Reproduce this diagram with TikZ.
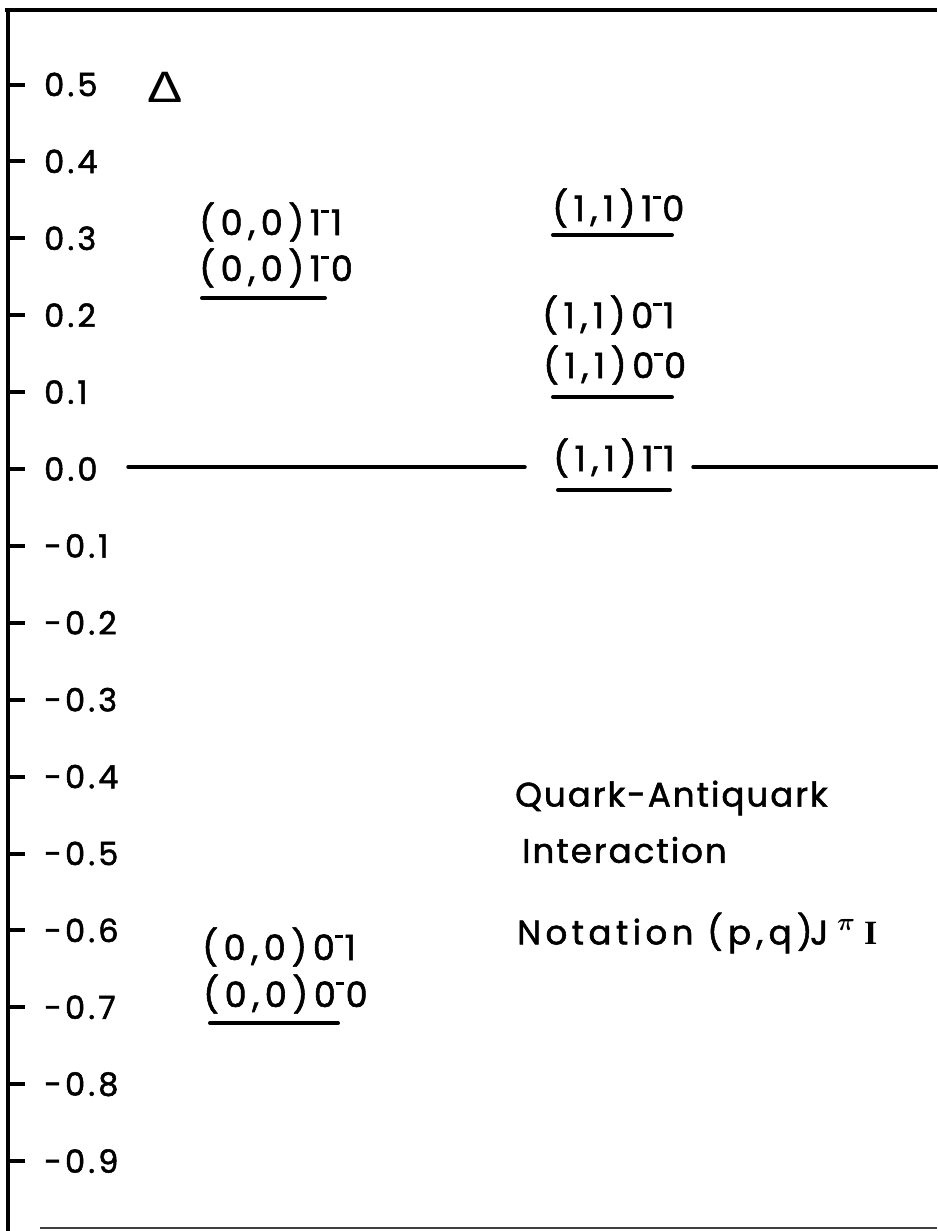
\documentclass[tikz,border=0pt]{standalone}
\usepackage{amsmath}
\usepackage{fontspec}
\setmainfont{Poppins}[LetterSpace=10, FakeBold=1.6]
\newfontfamily\axisfont{Poppins}[LetterSpace=10, FakeBold=1.6]
\newfontfamily\statefont{Poppins}[LetterSpace=16, FakeBold=1.6]
\newfontfamily\notefont{Poppins}[LetterSpace=6, FakeBold=1.6]
\newfontfamily\deltafont{Liberation Sans}
\newfontfamily\serifI{Liberation Serif}
% raised short bar used as the parity minus in J^pi
\newcommand\pminus{\raisebox{0.62em}{\rule{0.24em}{0.09em}}\hspace{0.04em}}
\tikzset{
  frame/.style={line width=3.5pt},
  tickmark/.style={line width=4pt},
  levelbar/.style={line width=4pt, line cap=round},
  zeroline/.style={line width=3.5pt, line cap=round},
  axlab/.style={anchor=west, inner sep=0pt, font=\axisfont\fontsize{32}{38}\selectfont},
  statelab/.style={anchor=west, inner sep=0pt, font=\statefont\fontsize{35}{42}\selectfont},
  note/.style={anchor=west, inner sep=0pt, font=\notefont\fontsize{34}{40}\selectfont},
}
\begin{document}
\begin{tikzpicture}[x=1pt, y=-1pt]
\useasboundingbox[fill=white] (0,0) rectangle (937,1231);

% frame: top rule, energy axis, faint bottom rule
\draw[frame] (5,10) -- (937,10);
\draw[frame] (8,10) -- (8,1231);
\draw[line width=2.5pt, black!75] (40,1228) -- (937,1228);

% axis ticks and values
\foreach \v/\t in {5/0.5,4/0.4,3/0.3,2/0.2,1/0.1,0/0.0,-1/-0.1,-2/-0.2,-3/-0.3,-4/-0.4,-5/-0.5,-6/-0.6,-7/-0.7,-8/-0.8,-9/-0.9}{
  \pgfmathsetmacro\yy{469-\v*76.9}
  \draw[tickmark] (8,\yy) -- (25,\yy);
  \node[axlab] (tick\v) at (44,\yy) {\t};
}

% axis title
\node[inner sep=0pt, font=\deltafont\fontsize{44}{46}\selectfont, xscale=1.2] (delta) at (165,87) {Δ};

% levels of the (0,0) multiplet
\node[statelab] (s0011) at (199,222) {(0,0)1\pminus1};
\node[statelab] (s0010) at (199,268) {(0,0)1\pminus0};
\draw[levelbar] (202,298) -- (325,298);

\node[statelab] (s0001) at (202,947) {(0,0)0\pminus1};
\node[statelab] (s0000) at (203,994) {(0,0)0\pminus0};
\draw[levelbar] (210,1023) -- (338,1023);

% levels of the (1,1) multiplet
\node[statelab] (s1110) at (552,208) {(1,1)1\pminus0};
\draw[levelbar] (553,235) -- (672,235);

\node[statelab] (s1101) at (542,315) {(1,1)0\pminus1};
\node[statelab] (s1100) at (543,365) {(1,1)0\pminus0};
\draw[levelbar] (553,397) -- (672,397);

\node[statelab] (s1111) at (553,458) {(1,1)1\pminus1};
\draw[levelbar] (558,490) -- (670,490);

% zero reference line, broken around the (1,1)1-1 label
\coordinate (zA) at (128,467);
\coordinate (zB) at (525,467);
\coordinate (zC) at (693,467);
\coordinate (zD) at (937,467);
\draw[zeroline] (zA) -- (zB);
\draw[zeroline] (zC) -- (zD);

% legend
\node[note] (title1) at (515,798) {Quark-Antiquark};
\node[note] (title2) at (522,850) {Interaction};
\node[note] (title3) at (517,933) {\makebox[190pt][l]{\addfontfeature{LetterSpace=13}Notation}\makebox[103pt][l]{\addfontfeature{LetterSpace=16}(p,q)}\makebox[27pt][l]{J}\makebox[27pt][l]{\raisebox{0.42em}{\fontsize{24}{24}\selectfont$\boldsymbol{\pi}$}}{\serifI\bfseries I}};
\end{tikzpicture}
\end{document}
